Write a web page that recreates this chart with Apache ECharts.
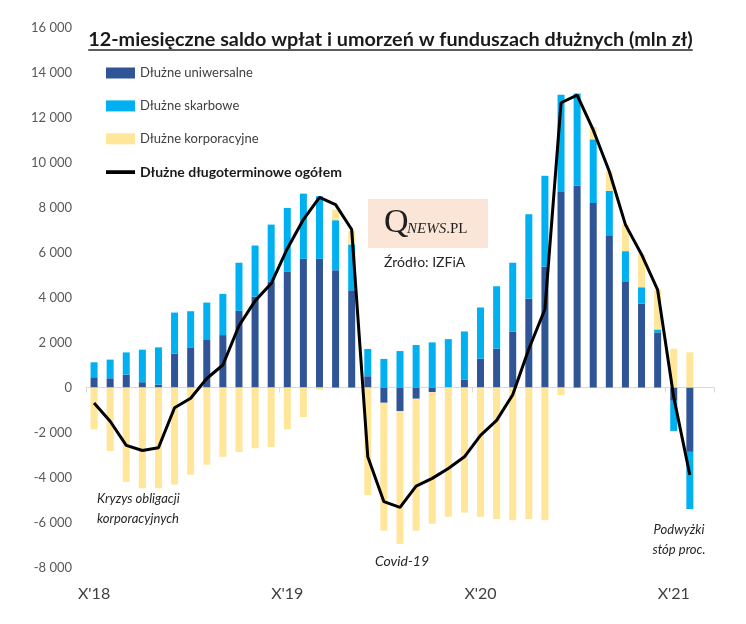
<!DOCTYPE html>
<html>
<head>
<meta charset="utf-8">
<script src="https://cdn.jsdelivr.net/npm/echarts@6/dist/echarts.min.js"></script>
<style>html,body{margin:0;padding:0;background:#fff}#c{width:746px;height:624px}</style>
</head>
<body>
<div id="c"></div>
<script>
// Months from X'18 (Oct 2018) to XII'21; last category is empty
const categories = ["X'18","XI'18","XII'18","I'19","II'19","III'19","IV'19","V'19","VI'19","VII'19","VIII'19","IX'19",
  "X'19","XI'19","XII'19","I'20","II'20","III'20","IV'20","V'20","VI'20","VII'20","VIII'20","IX'20",
  "X'20","XI'20","XII'20","I'21","II'21","III'21","IV'21","V'21","VI'21","VII'21","VIII'21","IX'21",
  "X'21","XI'21","XII'21"];
const uniwersalne = [455,410,575,235,130,1505,1785,2110,2330,3405,4040,4705,
  5160,5720,5720,5210,4320,500,-680,-1050,-500,-210,0,340,
  1280,1725,2490,3950,5370,8690,8980,8200,6770,4720,3730,2450,
  -590,-2860,null];
const skarbowe = [665,830,985,1445,1655,1825,1605,1665,1830,2140,2270,2535,
  2820,2895,2780,2225,2040,1210,1270,1620,1890,2005,2150,2150,
  2275,2775,3055,3750,4040,4320,4085,2830,1975,1340,725,130,
  -1340,-2540,null];
const korporacyjne = [-1860,-2820,-4190,-4480,-4480,-4310,-3870,-3430,-3080,-2860,-2700,-2640,
  -1860,-1310,-100,470,600,-4780,-5680,-5900,-5860,-5850,-5740,-5560,
  -5740,-5840,-5900,-5840,-5900,-340,0,560,855,1180,1460,1755,
  1725,1560,null];
const ogolem = [-690,-1500,-2570,-2800,-2680,-900,-480,400,1000,2745,3850,4620,
  6170,7465,8450,8130,7020,-3080,-5075,-5325,-4380,-4040,-3600,-3080,
  -2125,-1460,-320,1710,3480,12655,12995,11445,9600,7240,5915,4335,
  -430,-3890,null];
const yMin = -8000, yMax = 16000, yStep = 2000;
const seriesNames = ['Dłużne uniwersalne','Dłużne skarbowe','Dłużne korporacyjne','Dłużne długoterminowe ogółem'];
const title = '12-miesięczne saldo wpłat i umorzeń w funduszach dłużnych (mln zł)';

const FONT = 'Lato';
const chart = echarts.init(document.getElementById('c'), null, {renderer:'canvas'});

const titleFont = 'bold 19.8px ' + FONT;
const cv = document.createElement('canvas').getContext('2d');
cv.font = titleFont;
const tw = cv.measureText(title).width;
const tcx = 390.5;

function fmt(v){
  const s = String(Math.abs(v)).replace(/\B(?=(\d{3})+(?!\d))/g,' ');
  return (v < 0 ? '-' : '') + s;
}

chart.setOption({
  animation:false,
  backgroundColor:'#fff',
  grid:{left:86,right:32,top:27.5,bottom:56.5,containLabel:false},
  legend:{
    orient:'vertical', left:106, top:66.5, padding:0, itemWidth:29, itemHeight:11, itemGap:19.9,
    textStyle:{fontFamily:FONT,fontSize:13,color:'#404040'},
    data:[
      {name:seriesNames[0],icon:'rect'},
      {name:seriesNames[1],icon:'rect'},
      {name:seriesNames[2],icon:'rect'},
      {name:seriesNames[3],icon:'path://M0,0h0.01v0.01h-0.01z M0,3.6h29v3.8h-29z M0,10.99h0.01v0.01h-0.01z',
        itemStyle:{color:'#000'},textStyle:{fontWeight:'bold',fontSize:14,color:'#1a1a1a'}}
    ]
  },
  xAxis:[
    {type:'category',data:categories,boundaryGap:true,
      axisLine:{onZero:true,lineStyle:{color:'#d9d9d9',width:1}},
      axisTick:{show:true,length:5,interval:(i)=>i%12===0,lineStyle:{color:'#d9d9d9'}},
      axisLabel:{show:false},splitLine:{show:false}},
    {type:'category',data:categories,boundaryGap:true,position:'bottom',
      axisLine:{show:false,onZero:false},axisTick:{show:false},
      axisLabel:{interval:(i)=>i%12===0,margin:18,fontFamily:FONT,fontSize:16,color:'#404040'},
      splitLine:{show:false}}
  ],
  yAxis:{type:'value',min:yMin,max:yMax,interval:yStep,
    axisLine:{show:false},axisTick:{show:false},splitLine:{show:false},
    axisLabel:{formatter:fmt,margin:14,fontFamily:FONT,fontSize:13,color:'#595959'}},
  series:[
    {name:seriesNames[0],type:'bar',stack:'a',barWidth:7,data:uniwersalne,itemStyle:{color:'#2F5597'}},
    {name:seriesNames[1],type:'bar',stack:'a',barWidth:7,data:skarbowe,itemStyle:{color:'#00B0F0'}},
    {name:seriesNames[2],type:'bar',stack:'a',barWidth:7,data:korporacyjne,itemStyle:{color:'#FFE699'}},
    {name:seriesNames[3],type:'line',data:ogolem,symbol:'none',showSymbol:false,
      lineStyle:{color:'#000',width:3},itemStyle:{color:'#000'},z:5}
  ],
  graphic:[
    {type:'text',x:tcx,y:40,style:{text:title,font:titleFont,fill:'#1a1a1a',textAlign:'center',textVerticalAlign:'middle'}},
    {type:'line',shape:{x1:tcx-tw/2,y1:50,x2:tcx+tw/2,y2:50},style:{stroke:'#262626',lineWidth:1.3}},
    {type:'rect',shape:{x:368,y:199,width:120,height:49},style:{fill:'#FBE5D6'}},
    {type:'text',x:384,y:223,style:{text:'Q',font:'34px "Liberation Serif"',fill:'#1f1f1f',textVerticalAlign:'middle'}},
    {type:'text',x:407,y:229,style:{text:'{a|NEWS}{b|.PL}',textVerticalAlign:'middle',
      rich:{a:{font:'italic 15px "Liberation Serif"',fill:'#1f1f1f'},b:{font:'15px "Liberation Serif"',fill:'#1f1f1f'}}}},
    {type:'text',x:384,y:262.5,style:{text:'Źródło: IZFiA',font:'14px '+FONT,fill:'#262626',textVerticalAlign:'middle'}},
    {type:'text',x:97,y:499,style:{text:'Kryzys obligacji',font:'italic 13px '+FONT,fill:'#262626',textVerticalAlign:'middle'}},
    {type:'text',x:97,y:519,style:{text:'korporacyjnych',font:'italic 13px '+FONT,fill:'#262626',textVerticalAlign:'middle'}},
    {type:'text',x:375,y:561,style:{text:'Covid-19',font:'italic 14px '+FONT,fill:'#262626',textVerticalAlign:'middle'}},
    {type:'text',x:679,y:530,style:{text:'Podwyżki',font:'italic 13px '+FONT,fill:'#262626',textAlign:'center',textVerticalAlign:'middle'}},
    {type:'text',x:679,y:550,style:{text:'stóp proc.',font:'italic 13px '+FONT,fill:'#262626',textAlign:'center',textVerticalAlign:'middle'}}
  ]
});
</script>
</body>
</html>
